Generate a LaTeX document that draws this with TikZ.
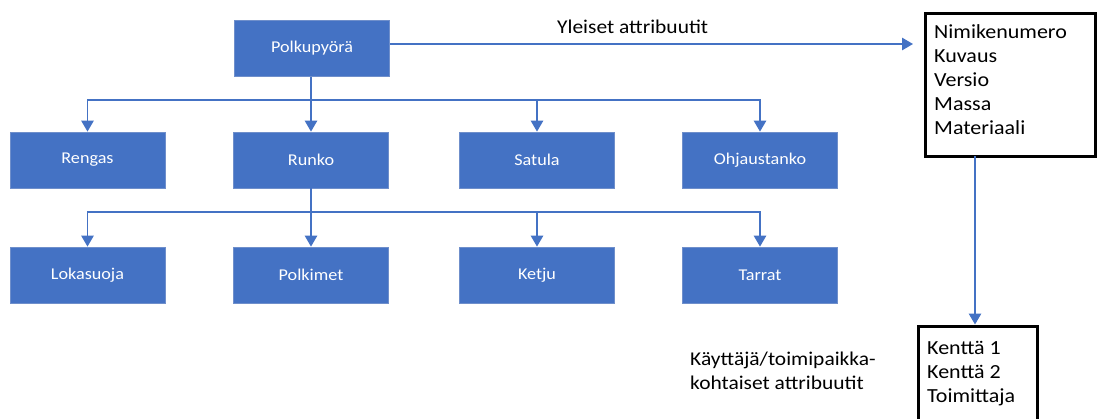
\documentclass[tikz,border=0pt]{standalone}
\usepackage{fontspec}
\setmainfont{Carlito}[FakeStretch=1.1]
\usetikzlibrary{arrows.meta}
\definecolor{ublue}{HTML}{4472C4}
\definecolor{uedge}{HTML}{6F8FCB}
\begin{document}
\begin{tikzpicture}[x=1pt,y=-1pt,
  bluebox/.style={rectangle,fill=ublue,draw=uedge,line width=0.8pt,minimum width=155pt,minimum height=56pt,inner sep=0pt,text=white,font=\fontsize{16.5}{19}\selectfont},
  conn/.style={draw=ublue,line width=1.3pt,-{Triangle[width=12.5pt,length=11pt]}},
  plain/.style={draw=ublue,line width=1.3pt},
  lbl/.style={font=\fontsize{19.5}{23.5}\selectfont,inner sep=0pt,align=left},
  attbox/.style={draw=black,line width=3pt,inner sep=0pt}]
\useasboundingbox (0,0) rectangle (1097,418);
\node[bluebox] (polku) at (312,48.5) {Polkupyörä};
\node[bluebox] (rengas) at (87.5,160) {Rengas};
\node[bluebox] (runko) at (311,160) {Runko};
\node[bluebox] (satula) at (537,160) {Satula};
\node[bluebox] (ohjaus) at (760,160) {Ohjaustanko};
\node[bluebox] (loka) at (87.5,275) {Lokasuoja};
\node[bluebox] (polkimet) at (311,275) {Polkimet};
\node[bluebox] (ketju) at (537,275) {Ketju};
\node[bluebox] (tarrat) at (760,275) {Tarrat};
% attribute boxes
\node[attbox,minimum width=170pt,minimum height=143pt] (yleiset) at (1010,84.5) {};
\node[lbl,anchor=north west,font=\fontsize{20}{24}\selectfont] (ylist) at (934,24.5) {Nimikenumero\\Kuvaus\\Versio\\Massa\\Materiaali};
\node[attbox,minimum width=119pt,minimum height=110pt] (kentat) at (977.5,381) {};
\node[lbl,anchor=north west,font=\fontsize{20}{24}\selectfont] (klist) at (927,341.5) {Kenttä 1\\Kenttä 2\\Toimittaja};
\node[lbl,anchor=west] (ytxt) at (557,27) {Yleiset attribuutit};
\node[lbl,anchor=north west,align=left] (ktxt) at (690,352) {Käyttäjä/toimipaikka-\\kohtaiset attribuutit};
% connectors
\coordinate (b1) at (311,100);
\coordinate (b2) at (311,212);
\draw[plain] (311,77) -- (b1);
\draw[conn] (b1) -- (runko.north);
\draw[conn] (b1) -| (rengas.north);
\draw[conn] (b1) -| (satula.north);
\draw[conn] (b1) -| (ohjaus.north);
\draw[plain] (runko.south) -- (b2);
\draw[conn] (b2) -- (polkimet.north);
\draw[conn] (b2) -| (loka.north);
\draw[conn] (b2) -| (ketju.north);
\draw[conn] (b2) -| (tarrat.north);
\coordinate (pe) at (390,44);
\coordinate (ye) at (913,44);
\draw[conn] (pe) -- (ye);
\coordinate (ys) at (975,156);
\coordinate (kn) at (975,324.5);
\draw[conn] (ys) -- (kn);
\end{tikzpicture}
\end{document}
